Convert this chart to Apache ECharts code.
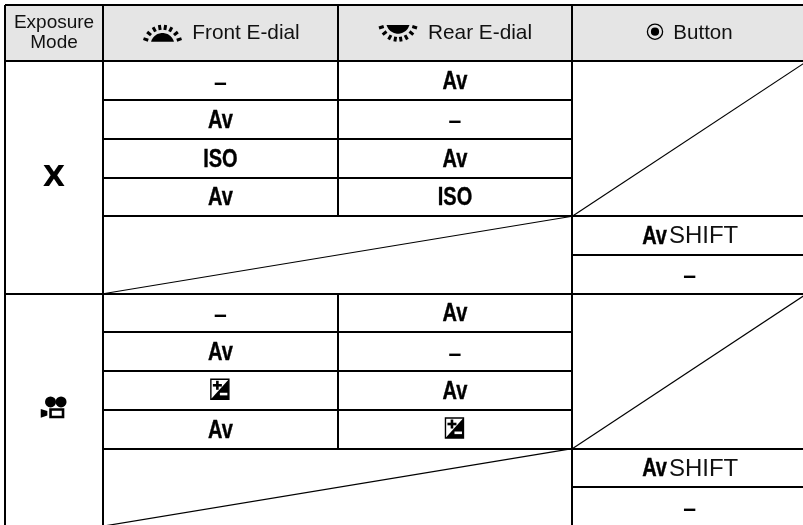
<!DOCTYPE html>
<html>
<head>
<meta charset="utf-8">
<script src="https://cdn.jsdelivr.net/npm/echarts@6/dist/echarts.min.js"></script>
<style>html,body{margin:0;padding:0;background:#fff}#main{width:803px;height:525px}</style>
</head>
<body>
<div id="main"></div>
<script>
// table content, one entry per body row
const headers = ['Exposure\nMode', 'Front E-dial', 'Rear E-dial', 'Button']
const modes = ['X', 'movie']
const frontDial = ['–', 'Av', 'ISO', 'Av', null, null, '–', 'Av', 'EV', 'Av', null, null]
const rearDial = ['Av', '–', 'Av', 'ISO', null, null, 'Av', '–', 'Av', 'EV', null, null]
const buttonAction = [null, null, null, null, 'AvSHIFT', '–', null, null, null, null, 'AvSHIFT', '–']

const FONT = '"Liberation Sans", Arial, sans-serif'
const MODE_W = 0.418  // first column, in units of the dial columns
const HEAD_H = 1.453  // header row, in units of body rows
const colLeft = [0, MODE_W, MODE_W + 1, MODE_W + 2, MODE_W + 3]
const rowCount = frontDial.length

var chart = echarts.init(document.getElementById('main'), null, { renderer: 'canvas' })

function boldText(text, x, y, size) {
  return {
    type: 'text', x: x, y: y, scaleX: 0.8,
    style: { text: text, x: 0, y: 0, align: 'center', verticalAlign: 'middle', fill: '#000', stroke: '#000', lineWidth: 0.4, font: 'bold ' + size + 'px ' + FONT }
  }
}

function plainText(text, x, y, size, lh) {
  return {
    type: 'text',
    style: { text: text, x: x, y: y, align: 'center', verticalAlign: 'middle', fill: '#111', font: size + 'px ' + FONT, lineHeight: lh }
  }
}

function evIcon(x, y) {
  return {
    type: 'group', x: x - 0.5, y: y - 1.3,
    children: [
      { type: 'polygon', shape: { points: [[9, -10], [9, 10], [-9, 10]] }, style: { fill: '#000' } },
      { type: 'rect', shape: { x: -9, y: -10, width: 18, height: 20 }, style: { fill: 'none', stroke: '#000', lineWidth: 1.4 } },
      { type: 'rect', shape: { x: -7, y: -5.3, width: 9, height: 2.6 }, style: { fill: '#000' } },
      { type: 'rect', shape: { x: -3.8, y: -8.5, width: 2.6, height: 9 }, style: { fill: '#000' } },
      { type: 'rect', shape: { x: 0, y: 3.5, width: 7.5, height: 2.6 }, style: { fill: '#fff' } }
    ]
  }
}

// half disc with ticks round it, y is the flat edge, dir 1 bulges up and -1 down
function dialIcon(x, y, dir) {
  var r = 11.85, cy = 3.15 * dir
  var pts = []
  for (var a = -75; a <= 75; a += 5) {
    var t = a * Math.PI / 180
    pts.push([r * Math.sin(t), cy - r * Math.cos(t) * dir])
  }
  var kids = [{ type: 'polygon', shape: { points: pts }, style: { fill: '#000' } }]
  ;[-72, -50, -28, -9, 9, 28, 50, 72].forEach(function (d) {
    var t = d * Math.PI / 180
    kids.push({
      type: 'line',
      shape: { x1: 15 * Math.sin(t), y1: cy - 15 * Math.cos(t) * dir, x2: 20 * Math.sin(t), y2: cy - 20 * Math.cos(t) * dir },
      style: { stroke: '#000', lineWidth: 3 }
    })
  })
  return { type: 'group', x: x, y: y, children: kids }
}

function buttonIcon(x, y) {
  return {
    type: 'group', x: x, y: y,
    children: [
      { type: 'circle', shape: { cx: 0, cy: 0, r: 7.6 }, style: { fill: 'none', stroke: '#000', lineWidth: 1.3 } },
      { type: 'circle', shape: { cx: 0, cy: 0, r: 4.1 }, style: { fill: '#000' } }
    ]
  }
}

function movieIcon(x, y) {
  return {
    type: 'group', x: x, y: y,
    children: [
      { type: 'circle', shape: { cx: -3.5, cy: -8, r: 5.5 }, style: { fill: '#000' } },
      { type: 'circle', shape: { cx: 7, cy: -8, r: 5.5 }, style: { fill: '#000' } },
      { type: 'rect', shape: { x: -3.5, y: -0.5, width: 12.5, height: 7.5 }, style: { fill: '#fff', stroke: '#000', lineWidth: 2.6 } },
      { type: 'polygon', shape: { points: [[-13.3, -1], [-6.7, 1], [-6.7, 5.5], [-13.3, 7.8]] }, style: { fill: '#000' } }
    ]
  }
}

function cellText(value, x, y) {
  if (value === 'EV') return evIcon(x, y)
  if (value === '–') {
    return {
      type: 'text',
      style: { text: value, x: x, y: y + 2.5, align: 'center', verticalAlign: 'middle', fill: '#000', font: 'bold 23px ' + FONT }
    }
  }
  if (value === 'AvSHIFT') {
    return {
      type: 'group',
      children: [boldText('Av', x - 35, y + 1.5, 25), plainText('SHIFT', x + 14, y + 1, 24)]
    }
  }
  return boldText(value, x, y + 1.5, 25)
}

// rules, shaded header and diagonals
function renderFrame(params, api) {
  var kids = []
  function line(x1, y1, x2, y2, w, crisp) {
    var a = api.coord([x1, y1]), b = api.coord([x2, y2])
    if (crisp) { a = a.map(Math.round); b = b.map(Math.round) }
    kids.push({ type: 'line', shape: { x1: a[0], y1: a[1], x2: b[0], y2: b[1] }, style: { stroke: '#000', lineWidth: w } })
  }
  var tl = api.coord([0, -HEAD_H]), br = api.coord([colLeft[4], 0])
  kids.push({ type: 'rect', shape: { x: tl[0], y: tl[1], width: br[0] - tl[0], height: br[1] - tl[1] }, style: { fill: '#e5e5e5' } })
  line(0, -HEAD_H, colLeft[4], -HEAD_H, 2, true)
  line(0, 0, colLeft[4], 0, 2, true)
  line(0, -HEAD_H, 0, rowCount, 2, true)
  line(colLeft[1], -HEAD_H, colLeft[1], rowCount, 2, true)
  line(colLeft[3], -HEAD_H, colLeft[3], rowCount, 2, true)
  line(colLeft[2], -HEAD_H, colLeft[2], 0, 2, true)
  frontDial.forEach(function (v, i) {
    if (v !== null) line(colLeft[2], i, colLeft[2], i + 1, 2, true)
    if (i === 0) return
    if (i === rowCount / 2) {
      line(0, i, colLeft[4], i, 2, true)
      return
    }
    if (v !== null || frontDial[i - 1] !== null) line(colLeft[1], i, colLeft[3], i, 2, true)
    if (buttonAction[i] !== null || buttonAction[i - 1] !== null) line(colLeft[3], i, colLeft[4], i, 2, true)
  })
  ;[0, 6].forEach(function (r) {
    line(colLeft[3], r + 4, colLeft[4], r, 1.2)
    line(colLeft[1], r + 6, colLeft[3], r + 4, 1.2)
  })
  return { type: 'group', children: kids }
}

// header captions and body values
function renderCells(params, api) {
  var kids = []
  function mid(c, r) { return api.coord([(colLeft[c] + colLeft[c + 1]) / 2, r + 0.5]) }
  var h = api.coord([0, -HEAD_H / 2])[1]
  kids.push(plainText(headers[0], mid(0, 0)[0], h - 0.5, 19, 20))
  kids.push(plainText(headers[1], 246, h + 0.5, 20.8))
  kids.push(plainText(headers[2], 480, h + 0.5, 20.8))
  kids.push(plainText(headers[3], 703, h + 0.5, 20.5))
  kids.push(dialIcon(162.5, 41.7, 1))
  kids.push(dialIcon(398, 25, -1))
  kids.push(buttonIcon(655, 31.7))
  ;[frontDial, rearDial, buttonAction].forEach(function (col, c) {
    col.forEach(function (v, r) {
      if (v === null) return
      var p = mid(c + 1, r)
      kids.push(cellText(v, p[0], p[1]))
    })
  })
  var m = mid(0, 2.5)
  kids.push({ type: 'text', style: { text: modes[0], x: m[0], y: m[1] + 1, align: 'center', verticalAlign: 'middle', fill: '#000', font: 'bold 29px "DejaVu Sans"' } })
  kids.push(movieIcon(mid(0, 8.5)[0], mid(0, 8.5)[1]))
  return { type: 'group', children: kids }
}

var option = {
  animation: false,
  backgroundColor: '#fff',
  grid: { left: 5, top: 5, width: 798, height: 520 },
  xAxis: { type: 'value', min: 0, max: 3.4015, show: false },
  yAxis: { type: 'value', min: -HEAD_H, max: 11.97, inverse: true, show: false },
  series: [
    { type: 'custom', coordinateSystem: 'cartesian2d', clip: false, silent: true, renderItem: renderFrame, data: [[0, 0]] },
    { type: 'custom', coordinateSystem: 'cartesian2d', clip: false, silent: true, renderItem: renderCells, data: [[0, 0]] }
  ]
}

chart.setOption(option)
</script>
</body>
</html>
